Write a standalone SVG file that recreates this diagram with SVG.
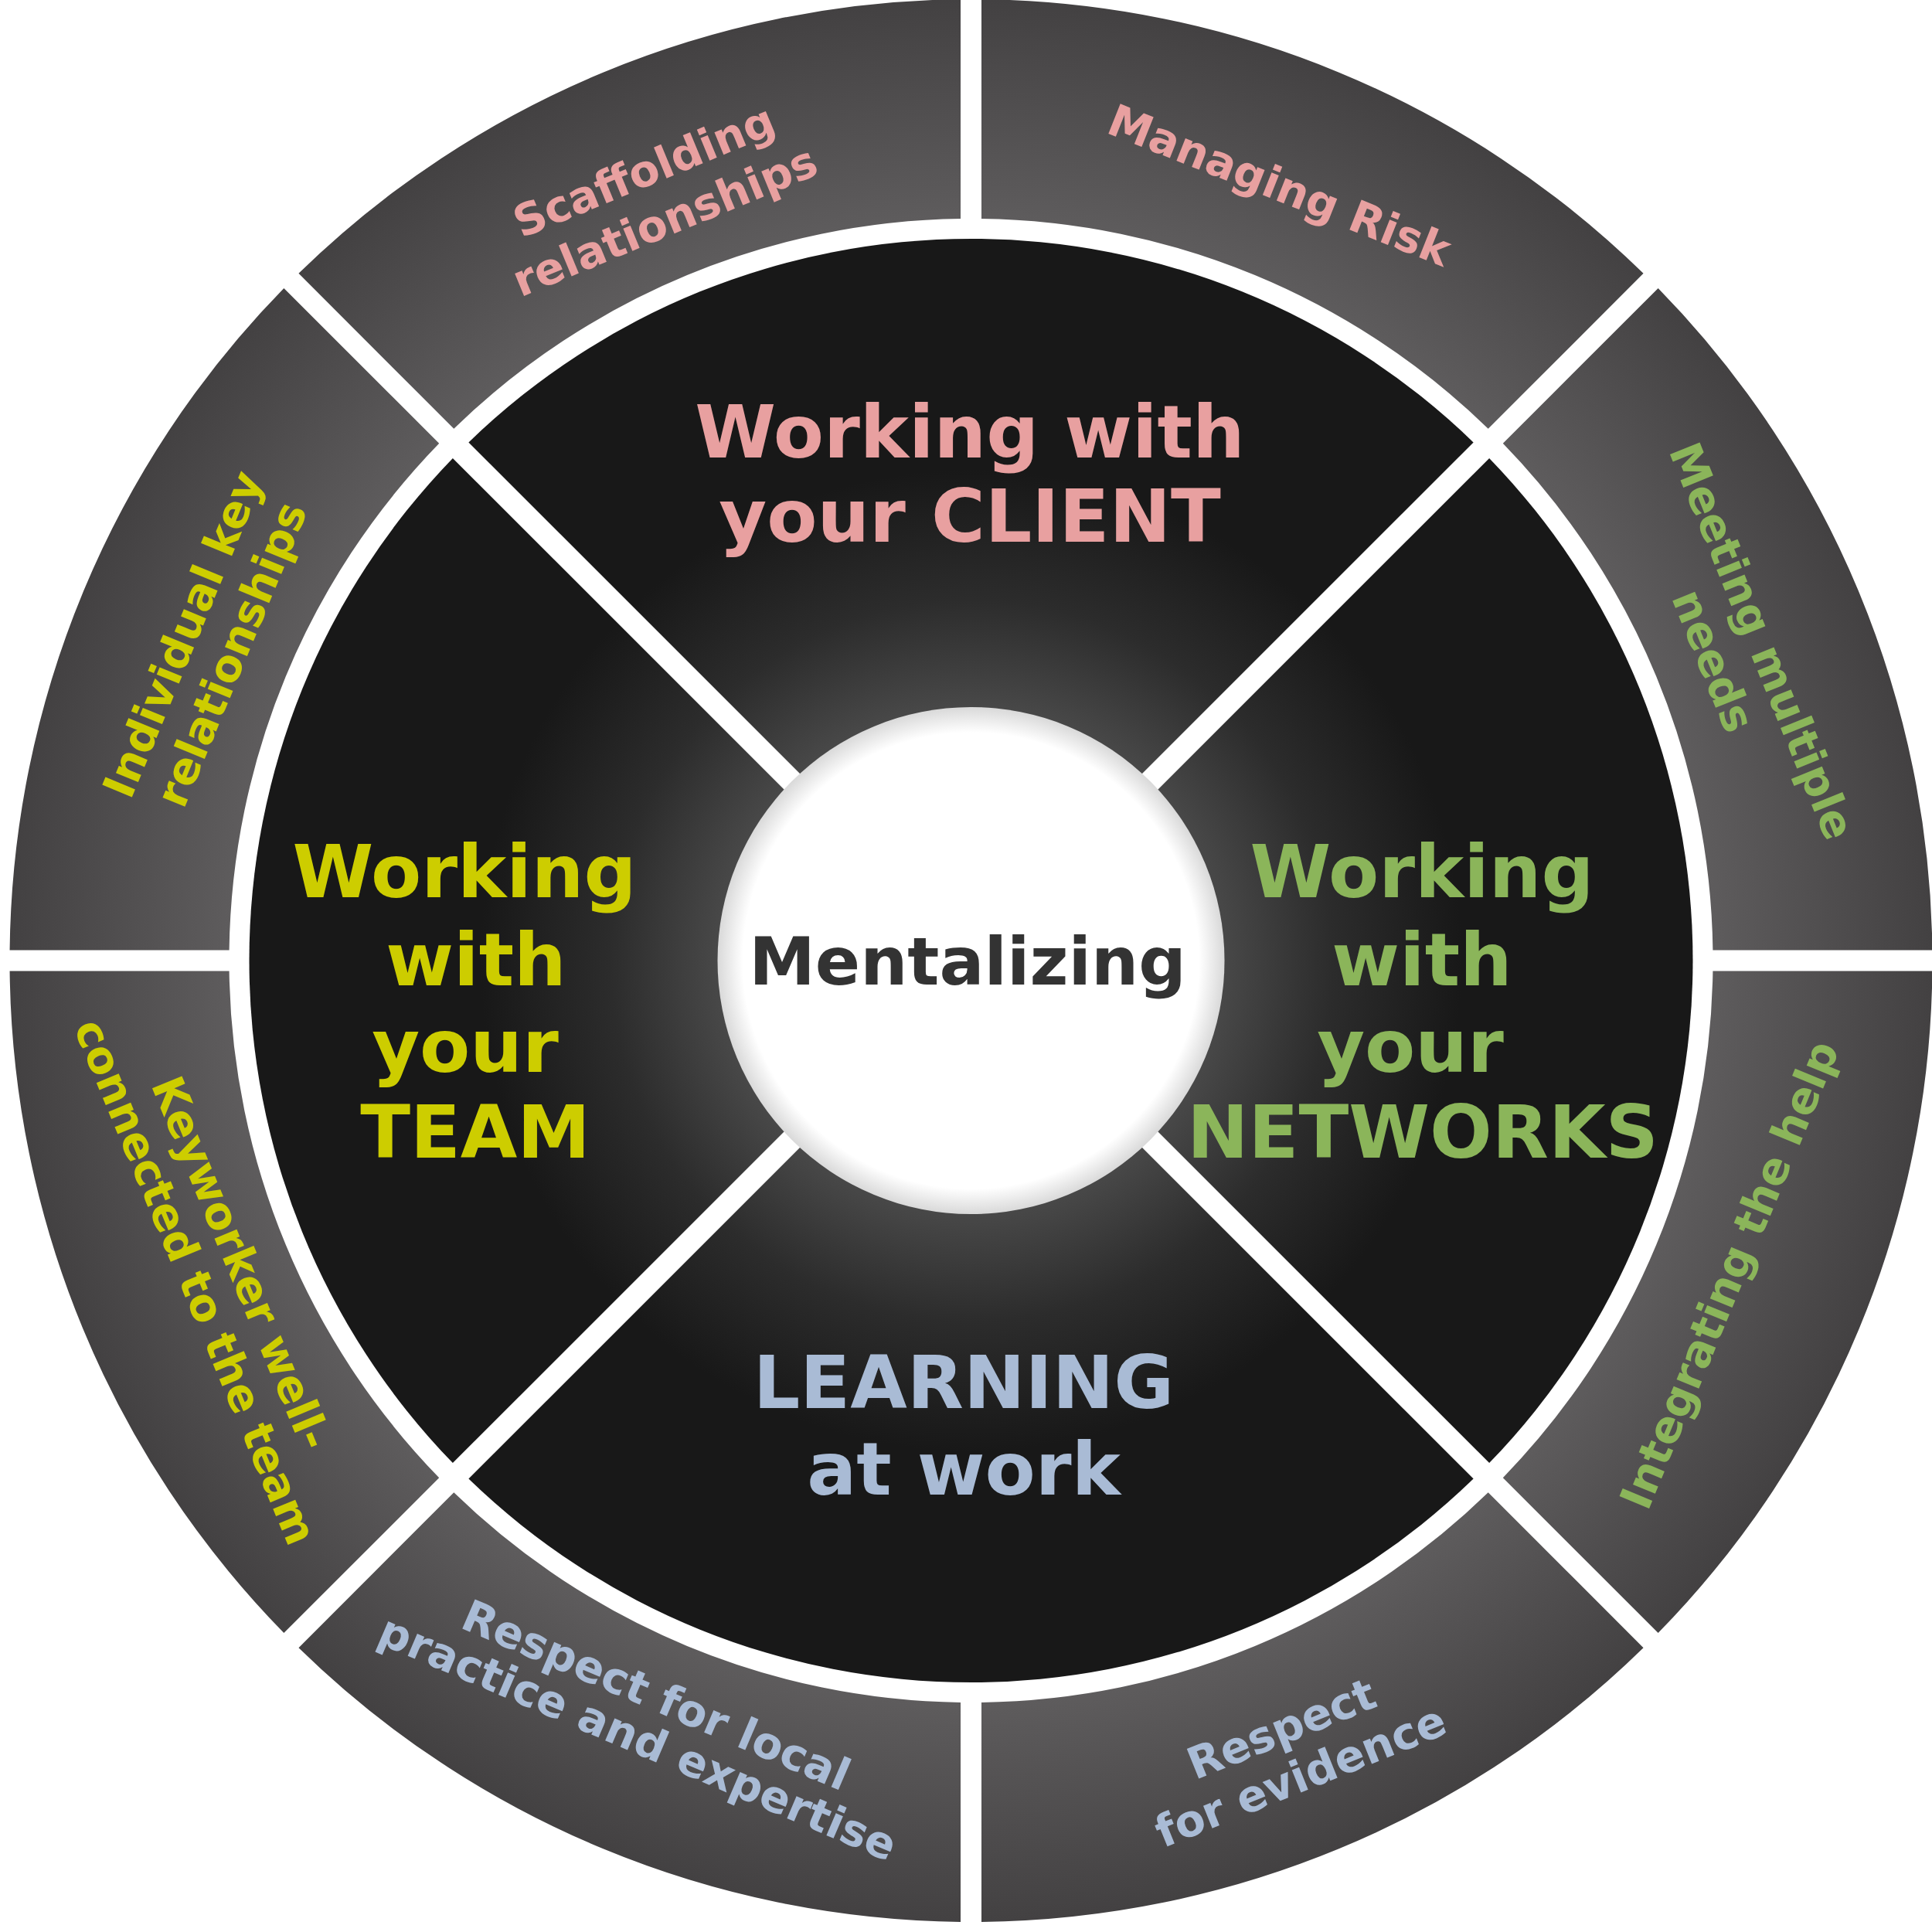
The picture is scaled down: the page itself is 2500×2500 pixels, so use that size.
<svg xmlns="http://www.w3.org/2000/svg" width="2500" height="2500" viewBox="0 0 2500 2500">
<defs>
<radialGradient id="ringGrad" gradientUnits="userSpaceOnUse" cx="0" cy="0" r="1244">
<stop offset="0.77" stop-color="#5e5c5d"/>
<stop offset="1" stop-color="#434142"/>
</radialGradient>
<radialGradient id="coreGrad" gradientUnits="userSpaceOnUse" cx="0" cy="0" r="934">
<stop offset="0.34" stop-color="#4a4a4a"/>
<stop offset="0.5" stop-color="#2c2c2c"/>
<stop offset="0.68" stop-color="#181818"/>
<stop offset="1" stop-color="#181818"/>
</radialGradient>
<radialGradient id="hubGrad" gradientUnits="userSpaceOnUse" cx="0" cy="0" r="328">
<stop offset="0" stop-color="#ffffff"/>
<stop offset="0.9" stop-color="#ffffff"/>
<stop offset="1" stop-color="#d9d9d9"/>
</radialGradient>
<style>
.seg { fill: url(#ringGrad); }
.quad { fill: url(#coreGrad); }
.hub { fill: url(#hubGrad); }
text { font-family: "DejaVu Sans", Verdana, sans-serif; font-weight: bold; text-anchor: middle; }
.outer { font-size: 57px; }
.main { font-size: 95px; }
.hubtext { font-size: 86px; fill: #333333; }
.pink { fill: #e8a0a0; }
.yellow { fill: #cdcd00; }
.green { fill: #8bb55a; }
.blue { fill: #a9bbd5; }
</style>
</defs>
<rect x="0" y="0" width="2500" height="2500" fill="#ffffff"/>
<g transform="translate(1256.5 1243)">
<g id="connectors"></g>

<g id="seg-integrating">
<path class="seg" d="M1243.93,13.5 A1244,1244 0 0 1 889.15,870.05 L688.3,669.2 A960,960 0 0 0 959.9,13.5 Z"/>
<g transform="rotate(-67.5)"><text class="outer green" x="0" y="1082">Integrating the help</text></g>
</g>

<g id="seg-evidence">
<path class="seg" d="M870.05,889.15 A1244,1244 0 0 1 13.5,1243.93 L13.5,959.9 A960,960 0 0 0 669.2,688.3 Z"/>
<g transform="rotate(-22)"><text class="outer blue" x="0" y="1092">Respect</text><text class="outer blue" x="0" y="1158">for evidence</text></g>
</g>

<g id="seg-local">
<path class="seg" d="M-13.5,1243.93 A1244,1244 0 0 1 -870.05,889.15 L-669.2,688.3 A960,960 0 0 0 -13.5,959.9 Z"/>
<g transform="rotate(23.2)"><text class="outer blue" x="0" y="1054">Respect for local</text><text class="outer blue" x="0" y="1114">practice and expertise</text></g>
</g>

<g id="seg-keyworker">
<path class="seg" d="M-889.15,870.05 A1244,1244 0 0 1 -1243.93,13.5 L-959.9,13.5 A960,960 0 0 0 -688.3,669.2 Z"/>
<g transform="rotate(67.5)"><text class="outer yellow" x="0" y="1042">Keyworker well-</text><text class="outer yellow" x="0" y="1106">connected to the team</text></g>
</g>

<g id="seg-individual">
<path class="seg" d="M-1243.93,-13.5 A1244,1244 0 0 1 -889.15,-870.05 L-688.3,-669.2 A960,960 0 0 0 -959.9,-13.5 Z"/>
<g transform="rotate(-67.5)"><text class="outer yellow" x="0" y="-1084">Individual key</text><text class="outer yellow" x="0" y="-1016">relationships</text></g>
</g>

<g id="seg-scaffolding">
<path class="seg" d="M-870.05,-889.15 A1244,1244 0 0 1 -13.5,-1243.93 L-13.5,-959.9 A960,960 0 0 0 -669.2,-688.3 Z"/>
<g transform="rotate(-22.5)"><text class="outer pink" x="0" y="-1086">Scaffolding</text><text class="outer pink" x="0" y="-1016">relationships</text></g>
</g>

<g id="seg-risk">
<path class="seg" d="M13.5,-1243.93 A1244,1244 0 0 1 870.05,-889.15 L669.2,-688.3 A960,960 0 0 0 13.5,-959.9 Z"/>
<g transform="rotate(21.7)"><text class="outer pink" x="0" y="-1060">Managing Risk</text></g>
</g>

<g id="seg-meeting">
<path class="seg" d="M889.15,-870.05 A1244,1244 0 0 1 1243.93,-13.5 L959.9,-13.5 A960,960 0 0 0 688.3,-669.2 Z"/>
<g transform="rotate(68)"><text class="outer green" x="0" y="-1084">Meeting multiple</text><text class="outer green" x="0" y="-1016">needs</text></g>
</g>

<g id="quad-client">
<path class="quad" d="M-650.11,-670.61 A934,934 0 0 1 650.11,-670.61 L0,-20.5 Z"/>
<text class="main pink" x="-1.5" y="-651">Working with</text>
<text class="main pink" x="-1.5" y="-542">your CLIENT</text>
</g>

<g id="quad-networks">
<path class="quad" d="M670.61,-650.11 A934,934 0 0 1 670.61,650.11 L20.5,0 Z"/>
<text class="main green" x="583.5" y="-82">Working</text>
<text class="main green" x="583.5" y="32">with</text>
<text class="main green" x="568.5" y="144">your</text>
<text class="main green" x="584.5" y="255">NETWORKS</text>
</g>

<g id="quad-learning">
<path class="quad" d="M650.11,670.61 A934,934 0 0 1 -650.11,670.61 L0,20.5 Z"/>
<text class="main blue" x="-9.5" y="579">LEARNING</text>
<text class="main blue" x="-9.5" y="691">at work</text>
</g>

<g id="quad-team">
<path class="quad" d="M-670.61,650.11 A934,934 0 0 1 -670.61,-650.11 L-20.5,0 Z"/>
<text class="main yellow" x="-655.5" y="-82">Working</text>
<text class="main yellow" x="-640.5" y="32">with</text>
<text class="main yellow" x="-654.5" y="144">your</text>
<text class="main yellow" x="-641.5" y="255">TEAM</text>
</g>

<g id="hub">
<circle class="hub" cx="0" cy="0" r="328"/>
<text class="hubtext" x="-4.5" y="31">Mentalizing</text>
</g>
</g>
</svg>
